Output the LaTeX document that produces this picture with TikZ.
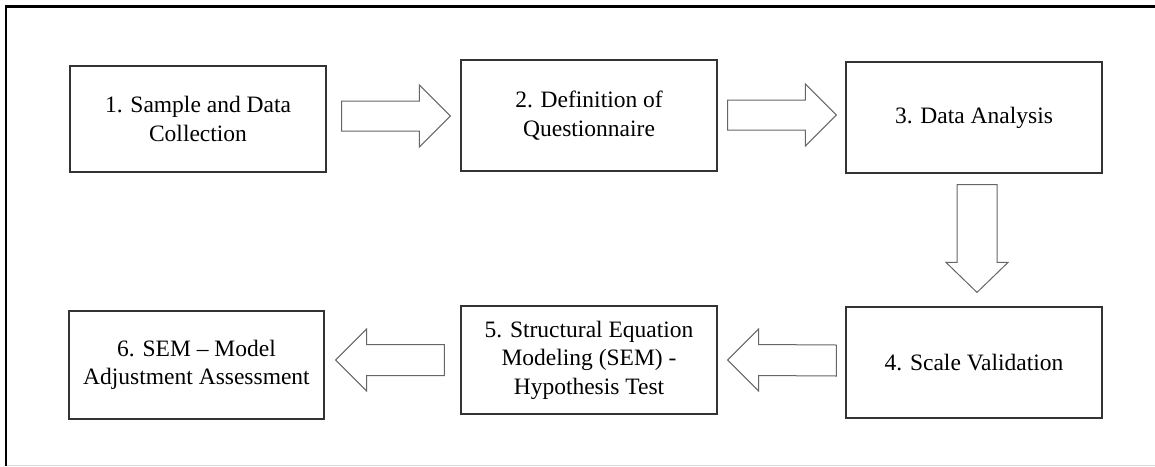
\documentclass[tikz,border=0pt]{standalone}
\usepackage{fontspec}
\setmainfont{Liberation Serif}
\usetikzlibrary{calc}
\begin{document}
\begin{tikzpicture}[x=1pt,y=-1pt,
  stepbox/.style={draw=black!80,line width=1.2pt,fill=white,inner sep=0pt,align=center,
    font=\fontsize{23.5}{28.5}\selectfont},
  barrow/.style={draw=black!60,line width=1pt,fill=white,line join=miter}]
\useasboundingbox (0,0) rectangle (1155,466);
\fill[white] (0,0) rectangle (1155,466);
% frame
\draw[black!15,line width=1pt] (6,465) -- (1155,465);
\draw[black,line width=2.6pt] (6,466) -- (6,6.3) -- (1155,6.3);
% boxes
\node[stepbox,minimum width=256pt,minimum height=106pt] (b1) at (198,119) {1. Sample and Data\\Collection};
\node[stepbox,minimum width=256pt,minimum height=111pt] (b2) at (589,115.5) {2. Definition of\\Questionnaire};
\node[stepbox,minimum width=256pt,minimum height=111pt] (b3) at (974,117.5) {3. Data Analysis};
\node[stepbox,minimum width=256pt,minimum height=111pt] (b4) at (974,362.5) {4. Scale Validation};
\node[stepbox,minimum width=256pt,minimum height=108pt] (b5) at (589,360) {5. Structural Equation\\Modeling (SEM) -\\Hypothesis Test};
\node[stepbox,minimum width=255pt,minimum height=108pt] (b6) at (196.5,365) {6. SEM -- Model\\Adjustment Assessment};
% block arrows between boxes
\coordinate (a1t) at ($(b1.east)+(15,-3)$);
\coordinate (a1h) at ($(b2.west)+(-10,0.5)$);
\draw[barrow] ($(a1t)+(0,-15)$) -- ($(a1h)+(-31,-15)$) -- ($(a1h)+(-31,-31)$) -- (a1h)
  -- ($(a1h)+(-31,31)$) -- ($(a1h)+(-31,15)$) -- ($(a1t)+(0,15)$) -- cycle;
\coordinate (a2t) at ($(b2.east)+(10,-0.5)$);
\coordinate (a2h) at ($(b3.west)+(-9,-2.5)$);
\draw[barrow] ($(a2t)+(0,-15)$) -- ($(a2h)+(-31,-15)$) -- ($(a2h)+(-31,-31)$) -- (a2h)
  -- ($(a2h)+(-31,31)$) -- ($(a2h)+(-31,15)$) -- ($(a2t)+(0,15)$) -- cycle;
\coordinate (a3t) at ($(b3.south)+(3,11)$);
\coordinate (a3h) at ($(b4.north)+(3,-14)$);
\draw[barrow] ($(a3t)+(-20,0)$) -- ($(a3h)+(-20,-30)$) -- ($(a3h)+(-31,-30)$) -- (a3h)
  -- ($(a3h)+(31,-30)$) -- ($(a3h)+(20,-30)$) -- ($(a3t)+(20,0)$) -- cycle;
\coordinate (a4t) at ($(b4.west)+(-9,-2)$);
\coordinate (a4h) at ($(b5.east)+(10,0)$);
\draw[barrow] ($(a4t)+(0,-15.5)$) -- ($(a4h)+(31,-15.5)$) -- ($(a4h)+(31,-31)$) -- (a4h)
  -- ($(a4h)+(31,31)$) -- ($(a4h)+(31,15.5)$) -- ($(a4t)+(0,15.5)$) -- cycle;
\coordinate (a5t) at ($(b5.west)+(-16,0)$);
\coordinate (a5h) at ($(b6.east)+(11,-5)$);
\draw[barrow] ($(a5t)+(0,-15.5)$) -- ($(a5h)+(31,-15.5)$) -- ($(a5h)+(31,-31)$) -- (a5h)
  -- ($(a5h)+(31,31)$) -- ($(a5h)+(31,15.5)$) -- ($(a5t)+(0,15.5)$) -- cycle;
\end{tikzpicture}
\end{document}
